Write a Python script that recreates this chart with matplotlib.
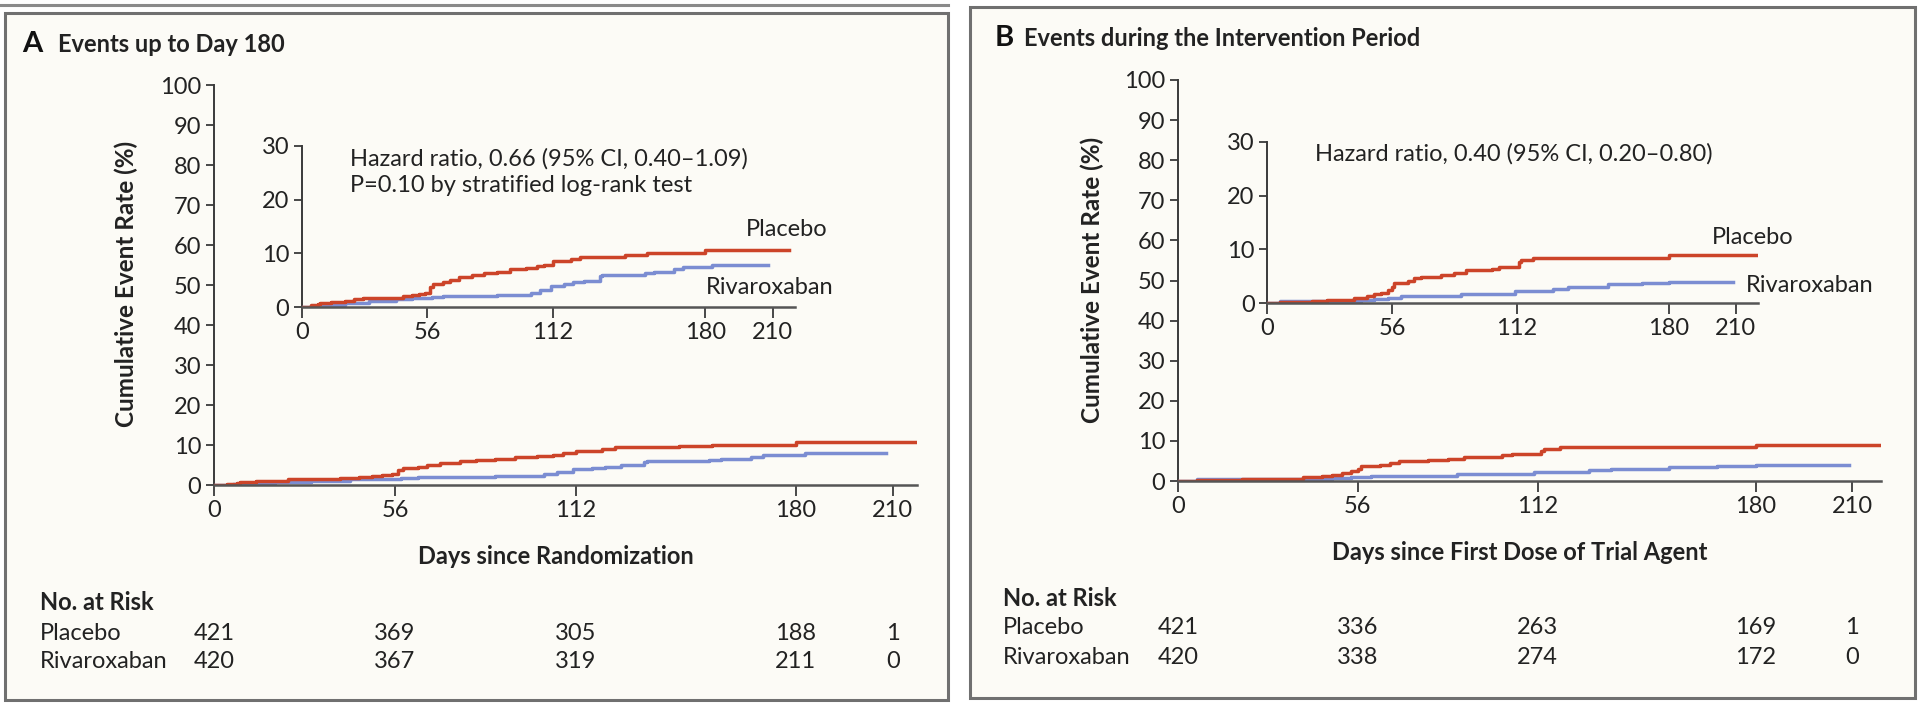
import matplotlib
matplotlib.use("Agg")
import matplotlib.pyplot as plt
from matplotlib import transforms
from matplotlib.patches import Rectangle
from matplotlib.lines import Line2D

##########################
########## Data ##########
##########################

# panel A - events up to day 180
a_plac_days = [0, 4, 7, 8, 13, 19, 23, 27, 39, 45, 49, 52, 55, 57, 58.5, 63, 66, 70, 76, 81,
               87, 93, 100, 105, 108, 112, 120, 124, 144, 154, 180, 217.5]
a_plac_rate = [0, 0.3, 0.6, 0.8, 1.0, 1.1, 1.5, 1.6, 1.7, 2.0, 2.2, 2.5, 2.7, 3.8, 4.2, 4.6, 5.1, 5.6, 6.0, 6.3,
               6.6, 7.0, 7.3, 7.6, 7.9, 8.5, 8.9, 9.4, 9.7, 10.1, 10.7, 10.7]
a_riva_days = [0, 6, 10, 19, 30, 42, 49, 58, 63, 87, 102, 106, 111, 117, 121, 126, 133, 134, 153,
               157, 166, 170, 183, 208]
a_riva_rate = [0, 0.2, 0.45, 0.8, 1.1, 1.4, 1.6, 1.8, 2.0, 2.3, 2.7, 3.2, 4.0, 4.3, 4.6, 4.9, 5.7, 6.0, 6.3,
               6.6, 7.0, 7.4, 7.9, 7.9]
a_hr_text = "Hazard ratio, 0.66 (95% CI, 0.40\u20131.09)\nP=0.10 by stratified log-rank test"
a_risk_plac = [421, 369, 305, 188, 1]
a_risk_riva = [420, 367, 319, 211, 0]

# panel B - events during the intervention period
b_plac_days = [0, 6, 20, 27, 39, 45, 48, 51, 54, 56, 57, 63, 66, 69, 78, 84, 89, 101, 104,
               113, 114, 119, 180, 219]
b_plac_rate = [0, 0.2, 0.45, 0.6, 0.95, 1.3, 1.6, 1.9, 2.4, 3.0, 3.8, 4.1, 4.6, 4.9, 5.2, 5.5, 6.1, 6.4, 6.8,
               7.6, 8.0, 8.4, 9.0, 9.0]
b_riva_days = [0, 6, 42, 48, 54, 60, 87, 111, 128, 135, 153, 168, 180, 209]
b_riva_rate = [0, 0.4, 0.6, 0.8, 0.95, 1.3, 1.7, 2.2, 2.7, 3.0, 3.5, 3.8, 4.0, 4.0]
b_hr_text = "Hazard ratio, 0.40 (95% CI, 0.20\u20130.80)"
b_risk_plac = [421, 336, 263, 169, 1]
b_risk_riva = [420, 338, 274, 172, 0]

risk_days = [0, 56, 112, 180, 210]
x_ticks = [0, 56, 112, 180, 210]

##########################
######## Styling #########
##########################

W, H = 1918, 703
RED = "#cc4429"
BLUE = "#7b8dd2"
AXC = "#3a3a3a"
FRAME = "#707070"
TXT = "#222222"
plt.rcParams['font.family'] = ['Lato', 'DejaVu Sans']
TS = 17


def box(l, r, top, bottom):
    return [l / W, 1 - bottom / H, (r - l) / W, (bottom - top) / H]


def fx(x):
    return x / W


def fy(y):
    return 1 - y / H


def style_axes(ax, yticks, xmax, ymax):
    ax.set_facecolor("none")
    for s in ["top", "right"]:
        ax.spines[s].set_visible(False)
    for s in ["left", "bottom"]:
        ax.spines[s].set_color(AXC)
        ax.spines[s].set_linewidth(1.4)
    ax.spines["bottom"].set_linewidth(1.8)
    ax.spines["bottom"].set_color("#555555")
    ax.set_xlim(0, xmax)
    ax.set_ylim(0, ymax)
    ax.set_xticks(x_ticks)
    ax.set_yticks(yticks)
    ax.tick_params(colors=AXC, width=1.3, length=6, labelsize=TS, pad=3, labelcolor=TXT)
    ax.tick_params(axis="x", length=8)
    ax.spines["bottom"].set_zorder(5)


def panel(fig, main_box, inset_box, main_xmax, data, hr_text, hr_pos, plac_pos, riva_pos,
          ylab_pos, xlabel, xlab_pos, risk_x, risk_y, risks):
    pd_, pr_, rd_, rr_ = data
    ax = fig.add_axes(box(*main_box))
    style_axes(ax, list(range(0, 101, 10)), main_xmax, 100)
    ax.step(rd_, rr_, where="post", color=BLUE, lw=2.5, zorder=3)
    ax.step(pd_, pr_, where="post", color=RED, lw=2.5, zorder=4)

    ins = fig.add_axes(box(*inset_box))
    style_axes(ins, [0, 10, 20, 30], 220, 30)
    ins.step(rd_, rr_, where="post", color=BLUE, lw=2.5, zorder=3)
    ins.step(pd_, pr_, where="post", color=RED, lw=2.5, zorder=4)

    fig.text(fx(hr_pos[0]), fy(hr_pos[1]), hr_text, fontsize=TS, color=TXT,
             va="top", ha="left", linespacing=1.3)
    fig.text(fx(plac_pos[0]), fy(plac_pos[1]), "Placebo", fontsize=TS, color=TXT,
             ha="right", va="center")
    fig.text(fx(riva_pos[0]), fy(riva_pos[1]), "Rivaroxaban", fontsize=TS, color=TXT,
             ha="right", va="center")

    fig.text(fx(ylab_pos[0]), fy(ylab_pos[1]), "Cumulative Event Rate (%)", rotation=90,
             fontsize=17.5, fontweight="bold", ha="center", va="center", color=TXT)
    fig.text(fx(xlab_pos[0]), fy(xlab_pos[1]), xlabel, fontsize=TS, fontweight="bold",
             ha="center", va="center", color=TXT)

    # number at risk table
    fig.text(fx(risk_x), fy(risk_y[0]), "No. at Risk", fontsize=TS, fontweight="bold",
             ha="left", va="center", color=TXT)
    fig.text(fx(risk_x), fy(risk_y[1]), "Placebo", fontsize=TS, ha="left", va="center", color=TXT)
    fig.text(fx(risk_x), fy(risk_y[2]), "Rivaroxaban", fontsize=TS, ha="left", va="center", color=TXT)
    trans = transforms.blended_transform_factory(ax.transData, fig.transFigure)
    for d, p, r in zip(risk_days, risks[0], risks[1]):
        ax.text(d, fy(risk_y[1]), str(p), transform=trans, fontsize=TS, ha="center", va="center",
                color=TXT, clip_on=False)
        ax.text(d, fy(risk_y[2]), str(r), transform=trans, fontsize=TS, ha="center", va="center",
                color=TXT, clip_on=False)
    return ax


fig = plt.figure(figsize=(W / 100, H / 100), dpi=100)
fig.patch.set_facecolor("white")

# panel frames (kept behind the axes)
fig.patches.append(Rectangle((fx(5), fy(700)), fx(948) - fx(5), fy(13) - fy(700),
                             transform=fig.transFigure, facecolor="#fcfbf6", edgecolor=FRAME,
                             lw=2.2, zorder=-5))
fig.lines.append(Line2D([0, fx(948)], [fy(5), fy(5)], transform=fig.transFigure, color="#8a8a8a",
                        lw=2.2, zorder=-5))
fig.patches.append(Rectangle((fx(970), fy(698)), fx(1915) - fx(970), fy(7) - fy(698),
                             transform=fig.transFigure, facecolor="#fcfbf6", edgecolor=FRAME,
                             lw=2.2, zorder=-5))

# titles
fig.text(fx(22), fy(44), "A", fontsize=21, fontweight="bold", ha="left", va="center", color="#111111")
fig.text(fx(58), fy(44), "Events up to Day 180", fontsize=17, fontweight="bold", ha="left", va="center",
         color=TXT)
fig.text(fx(995), fy(38), "B", fontsize=21, fontweight="bold", ha="left", va="center", color="#111111")
fig.text(fx(1024), fy(38), "Events during the Intervention Period", fontsize=17, fontweight="bold",
         ha="left", va="center", color=TXT)

panel(fig, (214, 917, 85, 485), (302, 795, 146, 307), 217.5,
      (a_plac_days, a_plac_rate, a_riva_days, a_riva_rate),
      a_hr_text, (350, 148), (828, 230), (834, 287), (126, 284),
      "Days since Randomization", (556, 557), 40, (603, 633, 662), (a_risk_plac, a_risk_riva))

panel(fig, (1178, 1881, 80, 481), (1267, 1758, 142, 303), 219,
      (b_plac_days, b_plac_rate, b_riva_days, b_riva_rate),
      b_hr_text, (1315, 143), (1794, 238), (1873, 286), (1092, 280),
      "Days since First Dose of Trial Agent", (1520, 552), 1003, (598, 628, 657), (b_risk_plac, b_risk_riva))

fig.savefig("out.png", dpi=100, facecolor=fig.get_facecolor())
